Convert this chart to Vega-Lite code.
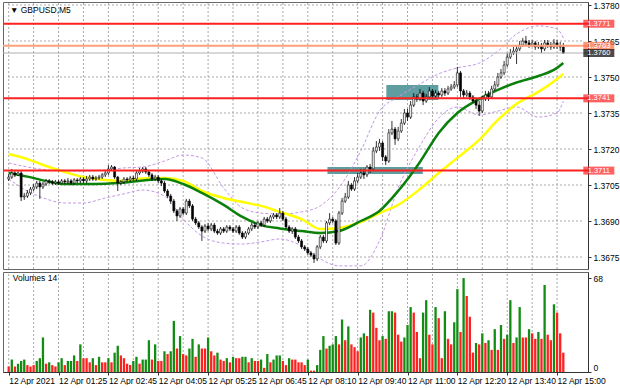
{
"$schema": "https://vega.github.io/schema/vega-lite/v6.json",
"background": "white",
"padding": {"left": 2, "top": 0, "right": 0, "bottom": 0},
"bounds": "flush",
"spacing": 3,
"config": {
  "view": {"stroke": "#666666"},
  "axis": {"labelFont": "Liberation Sans", "labelFontSize": 8.5, "labelColor": "#000000", "domainColor": "#333333", "tickColor": "#333333"}
},
"datasets": {
"gridx": [{"i":0},{"i":8},{"i":16},{"i":24},{"i":32},{"i":40},{"i":48},{"i":56},{"i":64},{"i":72},{"i":80},{"i":88},{"i":96},{"i":104},{"i":112},{"i":120},{"i":128},{"i":136},{"i":144},{"i":152},{"i":160},{"i":168},{"i":176}],
"gridy": [{"p":1.3675},{"p":1.369},{"p":1.3705},{"p":1.372},{"p":1.3735},{"p":1.375},{"p":1.3765},{"p":1.378}],
"bars": [
{"i":0,"o":1.37075,"h":1.37096,"l":1.37067,"c":1.37083,"v":4,"d":"r"},
{"i":1,"o":1.37083,"h":1.37117,"l":1.37075,"c":1.37100,"v":9,"d":"g"},
{"i":2,"o":1.37100,"h":1.37108,"l":1.37083,"c":1.37092,"v":4,"d":"r"},
{"i":3,"o":1.37092,"h":1.37108,"l":1.37088,"c":1.37100,"v":6,"d":"g"},
{"i":4,"o":1.37100,"h":1.37108,"l":1.36983,"c":1.37000,"v":8,"d":"g"},
{"i":5,"o":1.37000,"h":1.37017,"l":1.36988,"c":1.37004,"v":9,"d":"g"},
{"i":6,"o":1.37004,"h":1.37029,"l":1.36996,"c":1.37017,"v":5,"d":"r"},
{"i":7,"o":1.37017,"h":1.37042,"l":1.37008,"c":1.37033,"v":4,"d":"r"},
{"i":8,"o":1.37033,"h":1.37054,"l":1.37025,"c":1.37042,"v":5,"d":"r"},
{"i":9,"o":1.37042,"h":1.37067,"l":1.37033,"c":1.37058,"v":8,"d":"g"},
{"i":10,"o":1.37058,"h":1.37067,"l":1.36992,"c":1.37042,"v":10,"d":"g"},
{"i":11,"o":1.37042,"h":1.37063,"l":1.37033,"c":1.37054,"v":25,"d":"g"},
{"i":12,"o":1.37054,"h":1.37075,"l":1.37046,"c":1.37067,"v":6,"d":"r"},
{"i":13,"o":1.37067,"h":1.37075,"l":1.37054,"c":1.37063,"v":7,"d":"g"},
{"i":14,"o":1.37063,"h":1.37071,"l":1.37050,"c":1.37058,"v":5,"d":"r"},
{"i":15,"o":1.37058,"h":1.37071,"l":1.37050,"c":1.37063,"v":4,"d":"r"},
{"i":16,"o":1.37063,"h":1.37071,"l":1.37050,"c":1.37058,"v":7,"d":"g"},
{"i":17,"o":1.37058,"h":1.37075,"l":1.37054,"c":1.37067,"v":10,"d":"g"},
{"i":18,"o":1.37067,"h":1.37075,"l":1.37054,"c":1.37063,"v":5,"d":"r"},
{"i":19,"o":1.37063,"h":1.37079,"l":1.37054,"c":1.37067,"v":8,"d":"g"},
{"i":20,"o":1.37067,"h":1.37075,"l":1.37050,"c":1.37058,"v":8,"d":"g"},
{"i":21,"o":1.37058,"h":1.37079,"l":1.37050,"c":1.37071,"v":12,"d":"g"},
{"i":22,"o":1.37071,"h":1.37079,"l":1.37058,"c":1.37067,"v":8,"d":"r"},
{"i":23,"o":1.37067,"h":1.37083,"l":1.37058,"c":1.37075,"v":20,"d":"g"},
{"i":24,"o":1.37075,"h":1.37083,"l":1.37058,"c":1.37067,"v":10,"d":"r"},
{"i":25,"o":1.37067,"h":1.37088,"l":1.37058,"c":1.37075,"v":10,"d":"r"},
{"i":26,"o":1.37075,"h":1.37092,"l":1.37067,"c":1.37083,"v":7,"d":"r"},
{"i":27,"o":1.37083,"h":1.37092,"l":1.37067,"c":1.37075,"v":10,"d":"g"},
{"i":28,"o":1.37075,"h":1.37088,"l":1.37067,"c":1.37079,"v":5,"d":"r"},
{"i":29,"o":1.37079,"h":1.37092,"l":1.37071,"c":1.37083,"v":11,"d":"g"},
{"i":30,"o":1.37083,"h":1.37100,"l":1.37075,"c":1.37092,"v":7,"d":"r"},
{"i":31,"o":1.37092,"h":1.37108,"l":1.37083,"c":1.37100,"v":7,"d":"r"},
{"i":32,"o":1.37100,"h":1.37133,"l":1.37092,"c":1.37117,"v":10,"d":"g"},
{"i":33,"o":1.37117,"h":1.37133,"l":1.37108,"c":1.37125,"v":7,"d":"r"},
{"i":34,"o":1.37125,"h":1.37129,"l":1.37075,"c":1.37083,"v":14,"d":"g"},
{"i":35,"o":1.37083,"h":1.37088,"l":1.37025,"c":1.37058,"v":19,"d":"g"},
{"i":36,"o":1.37058,"h":1.37071,"l":1.37050,"c":1.37063,"v":12,"d":"r"},
{"i":37,"o":1.37063,"h":1.37083,"l":1.37054,"c":1.37075,"v":10,"d":"r"},
{"i":38,"o":1.37075,"h":1.37083,"l":1.37063,"c":1.37071,"v":6,"d":"r"},
{"i":39,"o":1.37071,"h":1.37088,"l":1.37063,"c":1.37079,"v":5,"d":"r"},
{"i":40,"o":1.37079,"h":1.37088,"l":1.37067,"c":1.37075,"v":8,"d":"g"},
{"i":41,"o":1.37075,"h":1.37108,"l":1.37067,"c":1.37100,"v":11,"d":"g"},
{"i":42,"o":1.37100,"h":1.37121,"l":1.37092,"c":1.37108,"v":6,"d":"r"},
{"i":43,"o":1.37108,"h":1.37125,"l":1.37100,"c":1.37117,"v":9,"d":"g"},
{"i":44,"o":1.37117,"h":1.37125,"l":1.37096,"c":1.37104,"v":9,"d":"g"},
{"i":45,"o":1.37104,"h":1.37113,"l":1.37083,"c":1.37092,"v":23,"d":"g"},
{"i":46,"o":1.37092,"h":1.37100,"l":1.37067,"c":1.37075,"v":9,"d":"r"},
{"i":47,"o":1.37075,"h":1.37092,"l":1.37067,"c":1.37083,"v":20,"d":"g"},
{"i":48,"o":1.37083,"h":1.37092,"l":1.37058,"c":1.37067,"v":8,"d":"r"},
{"i":49,"o":1.37067,"h":1.37075,"l":1.37046,"c":1.37058,"v":8,"d":"r"},
{"i":50,"o":1.37058,"h":1.37067,"l":1.37017,"c":1.37025,"v":15,"d":"g"},
{"i":51,"o":1.37025,"h":1.37033,"l":1.36996,"c":1.37004,"v":13,"d":"r"},
{"i":52,"o":1.37004,"h":1.37013,"l":1.36971,"c":1.36983,"v":15,"d":"g"},
{"i":53,"o":1.36983,"h":1.36992,"l":1.36933,"c":1.36942,"v":37,"d":"g"},
{"i":54,"o":1.36942,"h":1.36950,"l":1.36900,"c":1.36921,"v":17,"d":"r"},
{"i":55,"o":1.36921,"h":1.36958,"l":1.36913,"c":1.36950,"v":26,"d":"g"},
{"i":56,"o":1.36950,"h":1.36958,"l":1.36925,"c":1.36933,"v":13,"d":"r"},
{"i":57,"o":1.36933,"h":1.36992,"l":1.36925,"c":1.36983,"v":12,"d":"r"},
{"i":58,"o":1.36983,"h":1.36992,"l":1.36954,"c":1.36963,"v":17,"d":"g"},
{"i":59,"o":1.36963,"h":1.36971,"l":1.36900,"c":1.36908,"v":24,"d":"g"},
{"i":60,"o":1.36908,"h":1.36917,"l":1.36883,"c":1.36892,"v":11,"d":"r"},
{"i":61,"o":1.36892,"h":1.36900,"l":1.36867,"c":1.36875,"v":20,"d":"g"},
{"i":62,"o":1.36875,"h":1.36883,"l":1.36817,"c":1.36858,"v":17,"d":"r"},
{"i":63,"o":1.36858,"h":1.36888,"l":1.36850,"c":1.36879,"v":17,"d":"r"},
{"i":64,"o":1.36879,"h":1.36892,"l":1.36858,"c":1.36867,"v":25,"d":"g"},
{"i":65,"o":1.36867,"h":1.36892,"l":1.36858,"c":1.36883,"v":15,"d":"r"},
{"i":66,"o":1.36883,"h":1.36892,"l":1.36850,"c":1.36858,"v":12,"d":"r"},
{"i":67,"o":1.36858,"h":1.36867,"l":1.36842,"c":1.36850,"v":14,"d":"g"},
{"i":68,"o":1.36850,"h":1.36875,"l":1.36842,"c":1.36867,"v":9,"d":"r"},
{"i":69,"o":1.36867,"h":1.36875,"l":1.36850,"c":1.36858,"v":8,"d":"r"},
{"i":70,"o":1.36858,"h":1.36883,"l":1.36850,"c":1.36875,"v":10,"d":"g"},
{"i":71,"o":1.36875,"h":1.36883,"l":1.36858,"c":1.36867,"v":7,"d":"r"},
{"i":72,"o":1.36867,"h":1.36875,"l":1.36850,"c":1.36858,"v":11,"d":"g"},
{"i":73,"o":1.36858,"h":1.36883,"l":1.36850,"c":1.36875,"v":10,"d":"r"},
{"i":74,"o":1.36875,"h":1.36883,"l":1.36842,"c":1.36850,"v":10,"d":"r"},
{"i":75,"o":1.36850,"h":1.36858,"l":1.36825,"c":1.36833,"v":11,"d":"g"},
{"i":76,"o":1.36833,"h":1.36858,"l":1.36825,"c":1.36850,"v":11,"d":"g"},
{"i":77,"o":1.36850,"h":1.36875,"l":1.36842,"c":1.36867,"v":7,"d":"r"},
{"i":78,"o":1.36867,"h":1.36892,"l":1.36858,"c":1.36883,"v":10,"d":"g"},
{"i":79,"o":1.36883,"h":1.36892,"l":1.36867,"c":1.36875,"v":8,"d":"r"},
{"i":80,"o":1.36875,"h":1.36900,"l":1.36867,"c":1.36892,"v":8,"d":"r"},
{"i":81,"o":1.36892,"h":1.36900,"l":1.36875,"c":1.36883,"v":9,"d":"g"},
{"i":82,"o":1.36883,"h":1.36917,"l":1.36875,"c":1.36908,"v":3,"d":"r"},
{"i":83,"o":1.36908,"h":1.36917,"l":1.36892,"c":1.36900,"v":13,"d":"g"},
{"i":84,"o":1.36900,"h":1.36925,"l":1.36892,"c":1.36917,"v":7,"d":"r"},
{"i":85,"o":1.36917,"h":1.36933,"l":1.36908,"c":1.36925,"v":9,"d":"g"},
{"i":86,"o":1.36925,"h":1.36933,"l":1.36908,"c":1.36917,"v":12,"d":"g"},
{"i":87,"o":1.36917,"h":1.36954,"l":1.36908,"c":1.36933,"v":12,"d":"g"},
{"i":88,"o":1.36933,"h":1.36942,"l":1.36900,"c":1.36908,"v":8,"d":"r"},
{"i":89,"o":1.36908,"h":1.36917,"l":1.36867,"c":1.36875,"v":5,"d":"r"},
{"i":90,"o":1.36875,"h":1.36883,"l":1.36850,"c":1.36858,"v":10,"d":"g"},
{"i":91,"o":1.36858,"h":1.36875,"l":1.36846,"c":1.36867,"v":9,"d":"r"},
{"i":92,"o":1.36867,"h":1.36875,"l":1.36825,"c":1.36833,"v":9,"d":"r"},
{"i":93,"o":1.36833,"h":1.36842,"l":1.36808,"c":1.36817,"v":7,"d":"r"},
{"i":94,"o":1.36817,"h":1.36825,"l":1.36783,"c":1.36792,"v":7,"d":"r"},
{"i":95,"o":1.36792,"h":1.36800,"l":1.36775,"c":1.36783,"v":5,"d":"r"},
{"i":96,"o":1.36783,"h":1.36792,"l":1.36758,"c":1.36767,"v":9,"d":"g"},
{"i":97,"o":1.36767,"h":1.36775,"l":1.36750,"c":1.36758,"v":1,"d":"r"},
{"i":98,"o":1.36758,"h":1.36767,"l":1.36725,"c":1.36742,"v":1,"d":"r"},
{"i":99,"o":1.36742,"h":1.36800,"l":1.36733,"c":1.36792,"v":5,"d":"g"},
{"i":100,"o":1.36792,"h":1.36842,"l":1.36783,"c":1.36833,"v":16,"d":"g"},
{"i":101,"o":1.36833,"h":1.36842,"l":1.36808,"c":1.36817,"v":26,"d":"g"},
{"i":102,"o":1.36817,"h":1.36900,"l":1.36808,"c":1.36892,"v":17,"d":"r"},
{"i":103,"o":1.36892,"h":1.36933,"l":1.36883,"c":1.36908,"v":19,"d":"g"},
{"i":104,"o":1.36908,"h":1.36917,"l":1.36892,"c":1.36900,"v":20,"d":"g"},
{"i":105,"o":1.36900,"h":1.36908,"l":1.36800,"c":1.36808,"v":26,"d":"g"},
{"i":106,"o":1.36808,"h":1.36942,"l":1.36800,"c":1.36933,"v":20,"d":"r"},
{"i":107,"o":1.36933,"h":1.36996,"l":1.36925,"c":1.36983,"v":38,"d":"g"},
{"i":108,"o":1.36983,"h":1.37017,"l":1.36975,"c":1.37000,"v":23,"d":"r"},
{"i":109,"o":1.37000,"h":1.37067,"l":1.36992,"c":1.37050,"v":33,"d":"g"},
{"i":110,"o":1.37050,"h":1.37058,"l":1.37025,"c":1.37033,"v":20,"d":"r"},
{"i":111,"o":1.37033,"h":1.37083,"l":1.37025,"c":1.37067,"v":18,"d":"r"},
{"i":112,"o":1.37067,"h":1.37100,"l":1.37058,"c":1.37083,"v":15,"d":"r"},
{"i":113,"o":1.37083,"h":1.37117,"l":1.37075,"c":1.37100,"v":25,"d":"g"},
{"i":114,"o":1.37100,"h":1.37117,"l":1.37075,"c":1.37092,"v":28,"d":"g"},
{"i":115,"o":1.37092,"h":1.37133,"l":1.37083,"c":1.37125,"v":26,"d":"r"},
{"i":116,"o":1.37125,"h":1.37138,"l":1.37100,"c":1.37117,"v":45,"d":"g"},
{"i":117,"o":1.37117,"h":1.37208,"l":1.37108,"c":1.37192,"v":43,"d":"r"},
{"i":118,"o":1.37192,"h":1.37233,"l":1.37183,"c":1.37208,"v":32,"d":"r"},
{"i":119,"o":1.37208,"h":1.37242,"l":1.37192,"c":1.37225,"v":23,"d":"r"},
{"i":120,"o":1.37225,"h":1.37233,"l":1.37150,"c":1.37167,"v":26,"d":"g"},
{"i":121,"o":1.37167,"h":1.37175,"l":1.37133,"c":1.37150,"v":24,"d":"r"},
{"i":122,"o":1.37150,"h":1.37283,"l":1.37142,"c":1.37267,"v":44,"d":"g"},
{"i":123,"o":1.37267,"h":1.37317,"l":1.37258,"c":1.37283,"v":44,"d":"g"},
{"i":124,"o":1.37283,"h":1.37292,"l":1.37217,"c":1.37242,"v":43,"d":"r"},
{"i":125,"o":1.37242,"h":1.37292,"l":1.37233,"c":1.37275,"v":27,"d":"r"},
{"i":126,"o":1.37275,"h":1.37325,"l":1.37267,"c":1.37308,"v":22,"d":"r"},
{"i":127,"o":1.37308,"h":1.37367,"l":1.37300,"c":1.37350,"v":25,"d":"g"},
{"i":128,"o":1.37350,"h":1.37367,"l":1.37317,"c":1.37333,"v":34,"d":"g"},
{"i":129,"o":1.37333,"h":1.37400,"l":1.37325,"c":1.37383,"v":47,"d":"g"},
{"i":130,"o":1.37383,"h":1.37433,"l":1.37375,"c":1.37417,"v":43,"d":"r"},
{"i":131,"o":1.37417,"h":1.37429,"l":1.37396,"c":1.37408,"v":29,"d":"r"},
{"i":132,"o":1.37408,"h":1.37450,"l":1.37400,"c":1.37433,"v":10,"d":"r"},
{"i":133,"o":1.37433,"h":1.37442,"l":1.37383,"c":1.37400,"v":43,"d":"g"},
{"i":134,"o":1.37400,"h":1.37429,"l":1.37392,"c":1.37417,"v":52,"d":"g"},
{"i":135,"o":1.37417,"h":1.37458,"l":1.37408,"c":1.37442,"v":27,"d":"r"},
{"i":136,"o":1.37442,"h":1.37450,"l":1.37408,"c":1.37421,"v":20,"d":"r"},
{"i":137,"o":1.37421,"h":1.37446,"l":1.37413,"c":1.37433,"v":47,"d":"g"},
{"i":138,"o":1.37433,"h":1.37442,"l":1.37413,"c":1.37425,"v":39,"d":"r"},
{"i":139,"o":1.37425,"h":1.37454,"l":1.37417,"c":1.37442,"v":10,"d":"r"},
{"i":140,"o":1.37442,"h":1.37454,"l":1.37421,"c":1.37433,"v":44,"d":"g"},
{"i":141,"o":1.37433,"h":1.37463,"l":1.37425,"c":1.37450,"v":24,"d":"r"},
{"i":142,"o":1.37450,"h":1.37471,"l":1.37442,"c":1.37458,"v":20,"d":"r"},
{"i":143,"o":1.37458,"h":1.37483,"l":1.37450,"c":1.37467,"v":36,"d":"g"},
{"i":144,"o":1.37467,"h":1.37542,"l":1.37458,"c":1.37517,"v":60,"d":"g"},
{"i":145,"o":1.37517,"h":1.37525,"l":1.37417,"c":1.37442,"v":29,"d":"r"},
{"i":146,"o":1.37442,"h":1.37450,"l":1.37413,"c":1.37425,"v":68,"d":"g"},
{"i":147,"o":1.37425,"h":1.37446,"l":1.37417,"c":1.37433,"v":55,"d":"r"},
{"i":148,"o":1.37433,"h":1.37442,"l":1.37404,"c":1.37417,"v":40,"d":"r"},
{"i":149,"o":1.37417,"h":1.37425,"l":1.37392,"c":1.37400,"v":14,"d":"r"},
{"i":150,"o":1.37400,"h":1.37413,"l":1.37367,"c":1.37383,"v":21,"d":"g"},
{"i":151,"o":1.37383,"h":1.37400,"l":1.37338,"c":1.37358,"v":20,"d":"r"},
{"i":152,"o":1.37358,"h":1.37421,"l":1.37350,"c":1.37408,"v":28,"d":"g"},
{"i":153,"o":1.37408,"h":1.37442,"l":1.37400,"c":1.37425,"v":21,"d":"r"},
{"i":154,"o":1.37425,"h":1.37442,"l":1.37400,"c":1.37417,"v":23,"d":"g"},
{"i":155,"o":1.37417,"h":1.37463,"l":1.37408,"c":1.37450,"v":16,"d":"r"},
{"i":156,"o":1.37450,"h":1.37483,"l":1.37442,"c":1.37467,"v":31,"d":"g"},
{"i":157,"o":1.37467,"h":1.37517,"l":1.37458,"c":1.37500,"v":16,"d":"r"},
{"i":158,"o":1.37500,"h":1.37533,"l":1.37492,"c":1.37517,"v":34,"d":"g"},
{"i":159,"o":1.37517,"h":1.37567,"l":1.37508,"c":1.37550,"v":24,"d":"r"},
{"i":160,"o":1.37550,"h":1.37600,"l":1.37542,"c":1.37583,"v":27,"d":"g"},
{"i":161,"o":1.37583,"h":1.37617,"l":1.37575,"c":1.37600,"v":52,"d":"g"},
{"i":162,"o":1.37600,"h":1.37625,"l":1.37592,"c":1.37608,"v":21,"d":"r"},
{"i":163,"o":1.37608,"h":1.37629,"l":1.37554,"c":1.37617,"v":25,"d":"g"},
{"i":164,"o":1.37617,"h":1.37650,"l":1.37608,"c":1.37633,"v":47,"d":"g"},
{"i":165,"o":1.37633,"h":1.37663,"l":1.37625,"c":1.37650,"v":25,"d":"r"},
{"i":166,"o":1.37650,"h":1.37671,"l":1.37629,"c":1.37642,"v":25,"d":"r"},
{"i":167,"o":1.37642,"h":1.37654,"l":1.37621,"c":1.37633,"v":31,"d":"g"},
{"i":168,"o":1.37633,"h":1.37654,"l":1.37625,"c":1.37642,"v":28,"d":"r"},
{"i":169,"o":1.37642,"h":1.37650,"l":1.37613,"c":1.37625,"v":24,"d":"r"},
{"i":170,"o":1.37625,"h":1.37646,"l":1.37617,"c":1.37633,"v":29,"d":"g"},
{"i":171,"o":1.37633,"h":1.37642,"l":1.37600,"c":1.37617,"v":24,"d":"r"},
{"i":172,"o":1.37617,"h":1.37654,"l":1.37608,"c":1.37642,"v":63,"d":"g"},
{"i":173,"o":1.37642,"h":1.37654,"l":1.37621,"c":1.37633,"v":27,"d":"r"},
{"i":174,"o":1.37633,"h":1.37646,"l":1.37613,"c":1.37625,"v":23,"d":"r"},
{"i":175,"o":1.37625,"h":1.37658,"l":1.37617,"c":1.37642,"v":49,"d":"g"},
{"i":176,"o":1.37642,"h":1.37654,"l":1.37617,"c":1.37629,"v":43,"d":"r"},
{"i":177,"o":1.37629,"h":1.37646,"l":1.37608,"c":1.37625,"v":28,"d":"r"},
{"i":178,"o":1.37625,"h":1.37642,"l":1.37596,"c":1.37600,"v":14,"d":"r"}
],
"ind": [
{"i":0,"g":1.37100,"y":1.37179,"u":1.37142,"lo":1.37075},
{"i":6,"g":1.37085,"y":1.37158,"u":1.37125,"lo":1.37025},
{"i":12,"g":1.37067,"y":1.37129,"u":1.37113,"lo":1.36992},
{"i":18,"g":1.37054,"y":1.37104,"u":1.37108,"lo":1.36975},
{"i":24,"g":1.37054,"y":1.37083,"u":1.37108,"lo":1.36975},
{"i":31,"g":1.37055,"y":1.37071,"u":1.37113,"lo":1.36996},
{"i":37,"g":1.37060,"y":1.37067,"u":1.37121,"lo":1.37013},
{"i":43,"g":1.37069,"y":1.37077,"u":1.37125,"lo":1.37029},
{"i":50,"g":1.37075,"y":1.37079,"u":1.37150,"lo":1.37004},
{"i":56,"g":1.37054,"y":1.37067,"u":1.37175,"lo":1.36908},
{"i":62,"g":1.37017,"y":1.37025,"u":1.37163,"lo":1.36838},
{"i":69,"g":1.36967,"y":1.36996,"u":1.37038,"lo":1.36808},
{"i":75,"g":1.36917,"y":1.36979,"u":1.36954,"lo":1.36804},
{"i":81,"g":1.36883,"y":1.36963,"u":1.36933,"lo":1.36813},
{"i":87,"g":1.36869,"y":1.36938,"u":1.36929,"lo":1.36825},
{"i":94,"g":1.36858,"y":1.36908,"u":1.36938,"lo":1.36796},
{"i":100,"g":1.36850,"y":1.36867,"u":1.36963,"lo":1.36742},
{"i":106,"g":1.36858,"y":1.36871,"u":1.37038,"lo":1.36713},
{"i":113,"g":1.36900,"y":1.36896,"u":1.37192,"lo":1.36713},
{"i":119,"g":1.36942,"y":1.36933,"u":1.37358,"lo":1.36817},
{"i":125,"g":1.37025,"y":1.36967,"u":1.37417,"lo":1.37038},
{"i":132,"g":1.37146,"y":1.37033,"u":1.37471,"lo":1.37213},
{"i":138,"g":1.37267,"y":1.37100,"u":1.37513,"lo":1.37329},
{"i":144,"g":1.37350,"y":1.37163,"u":1.37538,"lo":1.37375},
{"i":151,"g":1.37408,"y":1.37238,"u":1.37558,"lo":1.37342},
{"i":157,"g":1.37446,"y":1.37321,"u":1.37608,"lo":1.37358},
{"i":163,"g":1.37477,"y":1.37388,"u":1.37679,"lo":1.37375},
{"i":170,"g":1.37504,"y":1.37438,"u":1.37713,"lo":1.37333},
{"i":176,"g":1.37538,"y":1.37492,"u":1.37700,"lo":1.37350},
{"i":178,"g":1.37558,"y":1.37513,"u":1.37663,"lo":1.37400}
],
"levels": [
{"p":1.37722,"t":"1.3771","k":"res"},
{"p":1.3763,"t":"1.3763","k":"ref"},
{"p":1.376,"t":"1.3760","k":"cur"},
{"p":1.37411,"t":"1.3741","k":"res"},
{"p":1.3711,"t":"1.3711","k":"res"}
],
"zones": [
{"x1":102.3,"x2":132.9,"p1":1.37096,"p2":1.37125},
{"x1":121.2,"x2":137.9,"p1":1.37404,"p2":1.37467}
]
},
"vconcat": [
{
"width": 585, "height": 267,
"layer": [
{"data": {"name": "gridx"}, "mark": {"type": "rule", "color": "#a8a8a8", "strokeWidth": 1, "strokeDash": [2, 2], "opacity": 1},
 "encoding": {"x": {"field": "i", "type": "quantitative", "scale": {"domain": [-0.22, 184.32], "nice": false, "zero": false}, "axis": null},
  "y": {"datum": 1.367, "type": "quantitative", "scale": {"domain": [1.367, 1.378125], "nice": false, "zero": false},
        "axis": {"orient": "right", "title": null, "values": [1.3675, 1.369, 1.3705, 1.372, 1.3735, 1.375, 1.3765, 1.378], "format": ".4f", "grid": false, "tickSize": 3, "labelPadding": 2, "labelFlush": false, "labelOverlap": false, "zindex": 0}},
  "y2": {"datum": 1.378125}}},
{"data": {"name": "gridy"}, "mark": {"type": "rule", "color": "#a8a8a8", "strokeWidth": 1, "strokeDash": [2, 2], "opacity": 1},
 "encoding": {"x": {"datum": -0.22, "type": "quantitative", "scale": {"domain": [-0.22, 184.32], "nice": false, "zero": false}, "axis": null},
  "x2": {"datum": 184.32},
  "y": {"field": "p", "type": "quantitative", "scale": {"domain": [1.367, 1.378125], "nice": false, "zero": false},
        "axis": {"orient": "right", "title": null, "values": [1.3675, 1.369, 1.3705, 1.372, 1.3735, 1.375, 1.3765, 1.378], "format": ".4f", "grid": false, "tickSize": 3, "labelPadding": 2, "labelFlush": false, "labelOverlap": false, "zindex": 0}}}},
{"data": {"name": "zones"}, "mark": {"type": "rect", "color": "#5f9ea0", "clip": true},
 "encoding": {
  "x": {"field": "x1", "type": "quantitative", "scale": {"domain": [-0.22, 184.32], "nice": false, "zero": false}, "axis": null},
  "x2": {"field": "x2"},
  "y": {"field": "p1", "type": "quantitative", "scale": {"domain": [1.367, 1.378125], "nice": false, "zero": false},
        "axis": {"orient": "right", "title": null, "values": [1.3675, 1.369, 1.3705, 1.372, 1.3735, 1.375, 1.3765, 1.378], "format": ".4f", "grid": false, "tickSize": 3, "labelPadding": 2, "labelFlush": false, "labelOverlap": false, "zindex": 0}},
  "y2": {"field": "p2"}
 }},
{"data": {"name": "ind"}, "mark": {"type": "line", "color": "#c497e6", "strokeWidth": 1, "strokeDash": [3, 2], "interpolate": "monotone", "clip": true},
 "encoding": {"x": {"field": "i", "type": "quantitative", "scale": {"domain": [-0.22, 184.32], "nice": false, "zero": false}, "axis": null},
  "y": {"field": "u", "type": "quantitative", "scale": {"domain": [1.367, 1.378125], "nice": false, "zero": false},
        "axis": {"orient": "right", "title": null, "values": [1.3675, 1.369, 1.3705, 1.372, 1.3735, 1.375, 1.3765, 1.378], "format": ".4f", "grid": false, "tickSize": 3, "labelPadding": 2, "labelFlush": false, "labelOverlap": false, "zindex": 0}}}},
{"data": {"name": "ind"}, "mark": {"type": "line", "color": "#c497e6", "strokeWidth": 1, "strokeDash": [3, 2], "interpolate": "monotone", "clip": true},
 "encoding": {"x": {"field": "i", "type": "quantitative", "scale": {"domain": [-0.22, 184.32], "nice": false, "zero": false}, "axis": null},
  "y": {"field": "lo", "type": "quantitative", "scale": {"domain": [1.367, 1.378125], "nice": false, "zero": false},
        "axis": {"orient": "right", "title": null, "values": [1.3675, 1.369, 1.3705, 1.372, 1.3735, 1.375, 1.3765, 1.378], "format": ".4f", "grid": false, "tickSize": 3, "labelPadding": 2, "labelFlush": false, "labelOverlap": false, "zindex": 0}}}},
{"data": {"name": "ind"}, "mark": {"type": "line", "color": "#ffff00", "strokeWidth": 2.5, "interpolate": "monotone", "clip": true},
 "encoding": {"x": {"field": "i", "type": "quantitative", "scale": {"domain": [-0.22, 184.32], "nice": false, "zero": false}, "axis": null},
  "y": {"field": "y", "type": "quantitative", "scale": {"domain": [1.367, 1.378125], "nice": false, "zero": false},
        "axis": {"orient": "right", "title": null, "values": [1.3675, 1.369, 1.3705, 1.372, 1.3735, 1.375, 1.3765, 1.378], "format": ".4f", "grid": false, "tickSize": 3, "labelPadding": 2, "labelFlush": false, "labelOverlap": false, "zindex": 0}}}},
{"data": {"name": "ind"}, "mark": {"type": "line", "color": "#0b800b", "strokeWidth": 2.5, "interpolate": "monotone", "clip": true},
 "encoding": {"x": {"field": "i", "type": "quantitative", "scale": {"domain": [-0.22, 184.32], "nice": false, "zero": false}, "axis": null},
  "y": {"field": "g", "type": "quantitative", "scale": {"domain": [1.367, 1.378125], "nice": false, "zero": false},
        "axis": {"orient": "right", "title": null, "values": [1.3675, 1.369, 1.3705, 1.372, 1.3735, 1.375, 1.3765, 1.378], "format": ".4f", "grid": false, "tickSize": 3, "labelPadding": 2, "labelFlush": false, "labelOverlap": false, "zindex": 0}}}},
{"data": {"name": "bars"}, "mark": {"type": "rule", "color": "#000000", "strokeWidth": 0.8, "clip": true},
 "encoding": {"x": {"field": "i", "type": "quantitative", "scale": {"domain": [-0.22, 184.32], "nice": false, "zero": false}, "axis": null},
  "y": {"field": "l", "type": "quantitative", "scale": {"domain": [1.367, 1.378125], "nice": false, "zero": false},
        "axis": {"orient": "right", "title": null, "values": [1.3675, 1.369, 1.3705, 1.372, 1.3735, 1.375, 1.3765, 1.378], "format": ".4f", "grid": false, "tickSize": 3, "labelPadding": 2, "labelFlush": false, "labelOverlap": false, "zindex": 0}},
  "y2": {"field": "h"}}},
{"data": {"name": "bars"}, "mark": {"type": "bar", "width": 2, "stroke": "#000000", "strokeWidth": 0.6, "clip": true},
 "encoding": {"x": {"field": "i", "type": "quantitative", "scale": {"domain": [-0.22, 184.32], "nice": false, "zero": false}, "axis": null},
  "y": {"field": "o", "type": "quantitative", "scale": {"domain": [1.367, 1.378125], "nice": false, "zero": false},
        "axis": {"orient": "right", "title": null, "values": [1.3675, 1.369, 1.3705, 1.372, 1.3735, 1.375, 1.3765, 1.378], "format": ".4f", "grid": false, "tickSize": 3, "labelPadding": 2, "labelFlush": false, "labelOverlap": false, "zindex": 0}},
  "y2": {"field": "c"},
  "fill": {"condition": {"test": "datum.c >= datum.o", "value": "#ffffff"}, "value": "#000000"}}},
{"data": {"name": "levels"}, "mark": {"type": "rule", "clip": true},
 "encoding": {"y": {"field": "p", "type": "quantitative", "scale": {"domain": [1.367, 1.378125], "nice": false, "zero": false},
        "axis": {"orient": "right", "title": null, "values": [1.3675, 1.369, 1.3705, 1.372, 1.3735, 1.375, 1.3765, 1.378], "format": ".4f", "grid": false, "tickSize": 3, "labelPadding": 2, "labelFlush": false, "labelOverlap": false, "zindex": 0}},
  "color": {"condition": [{"test": "datum.k === 'ref'", "value": "#ffa07a"}, {"test": "datum.k === 'cur'", "value": "#b0b0b0"}], "value": "#ff2020"},
  "strokeWidth": {"condition": {"test": "datum.k === 'cur'", "value": 1}, "value": 2}}},
{"data": {"name": "levels"}, "mark": {"type": "tick", "orient": "horizontal", "thickness": 8, "size": 31, "filled": true},
 "encoding": {"x": {"datum": 189.4, "type": "quantitative", "scale": {"domain": [-0.22, 184.32], "nice": false, "zero": false}, "axis": null},
  "y": {"field": "p", "type": "quantitative", "scale": {"domain": [1.367, 1.378125], "nice": false, "zero": false},
        "axis": {"orient": "right", "title": null, "values": [1.3675, 1.369, 1.3705, 1.372, 1.3735, 1.375, 1.3765, 1.378], "format": ".4f", "grid": false, "tickSize": 3, "labelPadding": 2, "labelFlush": false, "labelOverlap": false, "zindex": 0}},
  "color": {"condition": [{"test": "datum.k === 'ref'", "value": "#ff6a3d"}, {"test": "datum.k === 'cur'", "value": "#000000"}], "value": "#ff2020"}}},
{"data": {"name": "levels"}, "mark": {"type": "text", "color": "#ffffff", "font": "Liberation Sans", "fontSize": 7.5, "align": "center", "baseline": "middle"},
 "encoding": {"x": {"datum": 189.4, "type": "quantitative", "scale": {"domain": [-0.22, 184.32], "nice": false, "zero": false}, "axis": null},
  "y": {"field": "p", "type": "quantitative", "scale": {"domain": [1.367, 1.378125], "nice": false, "zero": false},
        "axis": {"orient": "right", "title": null, "values": [1.3675, 1.369, 1.3705, 1.372, 1.3735, 1.375, 1.3765, 1.378], "format": ".4f", "grid": false, "tickSize": 3, "labelPadding": 2, "labelFlush": false, "labelOverlap": false, "zindex": 0}},
  "text": {"field": "t"}}},
{"data": {"values": [{"t": "▼ GBPUSD,M5"}]}, "mark": {"type": "text", "color": "#000000", "font": "Liberation Sans", "fontSize": 8.5, "align": "left", "baseline": "middle"},
 "encoding": {"x": {"datum": 0.41, "type": "quantitative", "scale": {"domain": [-0.22, 184.32], "nice": false, "zero": false}, "axis": null},
  "y": {"datum": 1.37781, "type": "quantitative", "scale": {"domain": [1.367, 1.378125], "nice": false, "zero": false},
        "axis": {"orient": "right", "title": null, "values": [1.3675, 1.369, 1.3705, 1.372, 1.3735, 1.375, 1.3765, 1.378], "format": ".4f", "grid": false, "tickSize": 3, "labelPadding": 2, "labelFlush": false, "labelOverlap": false, "zindex": 0}},
  "text": {"field": "t"}}}
]
},
{
"width": 585, "height": 100,
"layer": [
{"data": {"name": "gridx"}, "mark": {"type": "rule", "color": "#a8a8a8", "strokeWidth": 1, "strokeDash": [2, 2], "opacity": 1},
 "encoding": {"x": {"field": "i", "type": "quantitative", "scale": {"domain": [-0.22, 184.32], "nice": false, "zero": false},
        "axis": {"orient": "bottom", "title": null, "values": [0,16,32,48,64,80,96,112,128,144,160,176],
                 "labelExpr": "['12 Apr 2021','12 Apr 01:25','12 Apr 02:45','12 Apr 04:05','12 Apr 05:25','12 Apr 06:45','12 Apr 08:10','12 Apr 09:40','12 Apr 11:00','12 Apr 12:20','12 Apr 13:40','12 Apr 15:00'][datum.value / 16]",
                 "labelAlign": "left", "labelBaseline": "top", "labelPadding": 1, "tickSize": 3,
                 "labelOverlap": false, "labelFlush": false, "grid": false, "domain": true, "zindex": 0}},
  "y": {"datum": 0, "type": "quantitative", "scale": {"domain": [0, 72.4], "nice": false, "zero": true},
        "axis": {"orient": "right", "title": null, "values": [0, 68], "grid": false, "tickSize": 3, "labelPadding": 2, "labelFlush": false,
                 "labelBaseline": {"condition": {"test": "datum.value === 0", "value": "bottom"}, "value": "middle"}, "zindex": 0}},
  "y2": {"datum": 72.4}}},
{"data": {"name": "bars"}, "mark": {"type": "bar", "width": 2.3, "clip": true},
 "encoding": {
  "x": {"field": "i", "type": "quantitative", "scale": {"domain": [-0.22, 184.32], "nice": false, "zero": false},
        "axis": {"orient": "bottom", "title": null, "values": [0,16,32,48,64,80,96,112,128,144,160,176],
                 "labelExpr": "['12 Apr 2021','12 Apr 01:25','12 Apr 02:45','12 Apr 04:05','12 Apr 05:25','12 Apr 06:45','12 Apr 08:10','12 Apr 09:40','12 Apr 11:00','12 Apr 12:20','12 Apr 13:40','12 Apr 15:00'][datum.value / 16]",
                 "labelAlign": "left", "labelBaseline": "top", "labelPadding": 1, "tickSize": 3,
                 "labelOverlap": false, "labelFlush": false, "grid": false, "domain": true, "zindex": 0}},
  "y": {"field": "v", "type": "quantitative", "scale": {"domain": [0, 72.4], "nice": false, "zero": true},
        "axis": {"orient": "right", "title": null, "values": [0, 68], "grid": false, "tickSize": 3, "labelPadding": 2, "labelFlush": false,
                 "labelBaseline": {"condition": {"test": "datum.value === 0", "value": "bottom"}, "value": "middle"}, "zindex": 0}},
  "color": {"field": "d", "type": "nominal", "scale": {"domain": ["g", "r"], "range": ["#128c12", "#ff2020"]}, "legend": null}
 }},
{"data": {"values": [{"t": "Volumes 14"}]}, "mark": {"type": "text", "color": "#000000", "font": "Liberation Sans", "fontSize": 8.5, "align": "left", "baseline": "middle"},
 "encoding": {"x": {"datum": 1.3, "type": "quantitative", "scale": {"domain": [-0.22, 184.32], "nice": false, "zero": false},
        "axis": {"orient": "bottom", "title": null, "values": [0,16,32,48,64,80,96,112,128,144,160,176],
                 "labelExpr": "['12 Apr 2021','12 Apr 01:25','12 Apr 02:45','12 Apr 04:05','12 Apr 05:25','12 Apr 06:45','12 Apr 08:10','12 Apr 09:40','12 Apr 11:00','12 Apr 12:20','12 Apr 13:40','12 Apr 15:00'][datum.value / 16]",
                 "labelAlign": "left", "labelBaseline": "top", "labelPadding": 1, "tickSize": 3,
                 "labelOverlap": false, "labelFlush": false, "grid": false, "domain": true, "zindex": 0}},
  "y": {"datum": 67.7, "type": "quantitative", "scale": {"domain": [0, 72.4], "nice": false, "zero": true},
        "axis": {"orient": "right", "title": null, "values": [0, 68], "grid": false, "tickSize": 3, "labelPadding": 2, "labelFlush": false,
                 "labelBaseline": {"condition": {"test": "datum.value === 0", "value": "bottom"}, "value": "middle"}, "zindex": 0}},
  "text": {"field": "t"}}}
]
}
]
}
